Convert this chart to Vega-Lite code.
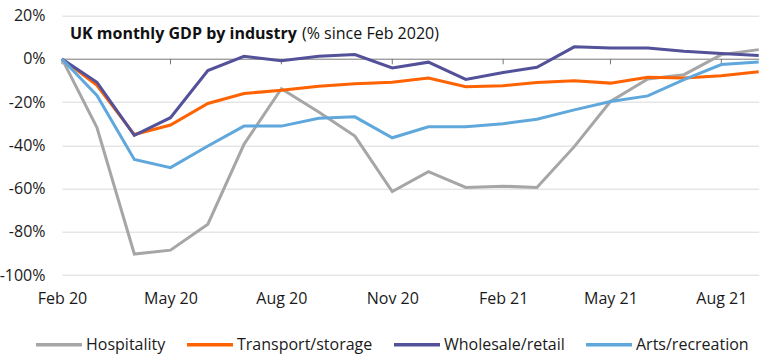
{
  "$schema": "https://vega.github.io/schema/vega-lite/v6.json",
  "width": 696.7,
  "height": 259.3,
  "autosize": "none",
  "padding": {"left": 62, "top": 15.7, "right": 6.3, "bottom": 84},
  "datasets": {
    "gdp": [
      {"date": "2020-02-01", "Hospitality": 0, "Transport/storage": 0, "Wholesale/retail": 0, "Arts/recreation": 0},
      {"date": "2020-03-01", "Hospitality": -0.318, "Transport/storage": -0.122, "Wholesale/retail": -0.108, "Arts/recreation": -0.169},
      {"date": "2020-04-01", "Hospitality": -0.903, "Transport/storage": -0.35, "Wholesale/retail": -0.354, "Arts/recreation": -0.465},
      {"date": "2020-05-01", "Hospitality": -0.885, "Transport/storage": -0.306, "Wholesale/retail": -0.272, "Arts/recreation": -0.503},
      {"date": "2020-06-01", "Hospitality": -0.765, "Transport/storage": -0.206, "Wholesale/retail": -0.054, "Arts/recreation": -0.403},
      {"date": "2020-07-01", "Hospitality": -0.395, "Transport/storage": -0.16, "Wholesale/retail": 0.012, "Arts/recreation": -0.311},
      {"date": "2020-08-01", "Hospitality": -0.138, "Transport/storage": -0.145, "Wholesale/retail": -0.008, "Arts/recreation": -0.311},
      {"date": "2020-09-01", "Hospitality": -0.246, "Transport/storage": -0.126, "Wholesale/retail": 0.012, "Arts/recreation": -0.275},
      {"date": "2020-10-01", "Hospitality": -0.357, "Transport/storage": -0.115, "Wholesale/retail": 0.02, "Arts/recreation": -0.268},
      {"date": "2020-11-01", "Hospitality": -0.614, "Transport/storage": -0.108, "Wholesale/retail": -0.042, "Arts/recreation": -0.365},
      {"date": "2020-12-01", "Hospitality": -0.522, "Transport/storage": -0.088, "Wholesale/retail": -0.015, "Arts/recreation": -0.314},
      {"date": "2021-01-01", "Hospitality": -0.595, "Transport/storage": -0.129, "Wholesale/retail": -0.095, "Arts/recreation": -0.314},
      {"date": "2021-02-01", "Hospitality": -0.589, "Transport/storage": -0.124, "Wholesale/retail": -0.063, "Arts/recreation": -0.3},
      {"date": "2021-03-01", "Hospitality": -0.595, "Transport/storage": -0.109, "Wholesale/retail": -0.039, "Arts/recreation": -0.279},
      {"date": "2021-04-01", "Hospitality": -0.406, "Transport/storage": -0.101, "Wholesale/retail": 0.056, "Arts/recreation": -0.236},
      {"date": "2021-05-01", "Hospitality": -0.197, "Transport/storage": -0.112, "Wholesale/retail": 0.051, "Arts/recreation": -0.197},
      {"date": "2021-06-01", "Hospitality": -0.093, "Transport/storage": -0.085, "Wholesale/retail": 0.051, "Arts/recreation": -0.171},
      {"date": "2021-07-01", "Hospitality": -0.073, "Transport/storage": -0.088, "Wholesale/retail": 0.036, "Arts/recreation": -0.096},
      {"date": "2021-08-01", "Hospitality": 0.02, "Transport/storage": -0.078, "Wholesale/retail": 0.025, "Arts/recreation": -0.026},
      {"date": "2021-09-01", "Hospitality": 0.043, "Transport/storage": -0.059, "Wholesale/retail": 0.016, "Arts/recreation": -0.014}
    ],
    "ticks": [
      {"date": "2020-02-01"}, {"date": "2020-05-01"}, {"date": "2020-08-01"}, {"date": "2020-11-01"},
      {"date": "2021-02-01"}, {"date": "2021-05-01"}, {"date": "2021-08-01"}
    ],
    "titles": [
      {"date": "2020-02-07T13:00:00Z", "v": 0.094, "bold": "UK monthly GDP by industry", "normal": ""},
      {"date": "2020-08-18T03:00:00Z", "v": 0.094, "bold": "", "normal": "(% since Feb 2020)"}
    ]
  },
  "layer": [
    {
      "data": {"name": "ticks"},
      "mark": {"type": "rule", "color": "#777777", "strokeWidth": 1},
      "encoding": {
        "x": {"field": "date", "type": "temporal", "title": null},
        "y": {"datum": 0, "type": "quantitative"},
        "y2": {"datum": -0.025}
      }
    },
    {
      "data": {"name": "gdp"},
      "transform": [{"fold": ["Hospitality", "Transport/storage", "Wholesale/retail", "Arts/recreation"], "as": ["industry", "v"]}],
      "mark": {"type": "line", "strokeWidth": 3},
      "encoding": {
        "x": {
          "field": "date", "type": "temporal", "title": null,
          "scale": {"type": "utc", "domain": [{"year": 2020, "month": 2, "date": 1, "utc": true}, {"year": 2021, "month": 9, "date": 1, "utc": true}]},
          "axis": {
            "values": [
              {"year": 2020, "month": 2, "date": 1, "utc": true},
              {"year": 2020, "month": 5, "date": 1, "utc": true},
              {"year": 2020, "month": 8, "date": 1, "utc": true},
              {"year": 2020, "month": 11, "date": 1, "utc": true},
              {"year": 2021, "month": 2, "date": 1, "utc": true},
              {"year": 2021, "month": 5, "date": 1, "utc": true},
              {"year": 2021, "month": 8, "date": 1, "utc": true}
            ],
            "format": "%b %y",
            "grid": false, "domain": false, "ticks": false,
            "labelPadding": 15, "labelFlush": false, "labelOverlap": false, "labelBound": false
          }
        },
        "y": {
          "field": "v", "type": "quantitative", "title": null,
          "scale": {"domain": [-1, 0.2], "nice": false, "zero": false},
          "axis": {
            "values": [-1, -0.8, -0.6, -0.4, -0.2, 0, 0.2],
            "format": ".0%",
            "grid": true,
            "gridColor": {"condition": {"test": "datum.value === 0", "value": "#777777"}, "value": "#d9d9d9"},
            "domain": false, "ticks": false, "labelPadding": 17
          }
        },
        "color": {
          "field": "industry", "type": "nominal", "title": null,
          "scale": {"domain": ["Hospitality", "Transport/storage", "Wholesale/retail", "Arts/recreation"], "range": ["#a6a6a6", "#ff6200", "#525199", "#60a8dc"]},
          "legend": {
            "orient": "none", "legendX": -28, "legendY": 304, "direction": "horizontal",
            "symbolType": "stroke", "symbolSize": 2116, "symbolStrokeWidth": 3.5,
            "labelFontSize": 16, "labelOffset": 2, "columnPadding": 14, "labelColor": "#1a1a1a"
          }
        }
      }
    },
    {
      "data": {"name": "titles"},
      "mark": {"type": "text", "align": "left", "baseline": "alphabetic", "fontSize": 16, "fontWeight": "bold", "color": "#111111"},
      "encoding": {
        "x": {"field": "date", "type": "temporal", "title": null},
        "y": {"field": "v", "type": "quantitative", "title": null},
        "text": {"field": "bold"}
      }
    },
    {
      "data": {"name": "titles"},
      "mark": {"type": "text", "align": "left", "baseline": "alphabetic", "fontSize": 16, "fontWeight": "normal", "color": "#111111"},
      "encoding": {
        "x": {"field": "date", "type": "temporal", "title": null},
        "y": {"field": "v", "type": "quantitative", "title": null},
        "text": {"field": "normal"}
      }
    }
  ],
  "config": {
    "font": "Open Sans",
    "view": {"stroke": null},
    "locale": {"number": {"decimal": ".", "thousands": ",", "grouping": [3], "currency": ["$", ""], "minus": "-"}},
    "axis": {"labelFontSize": 16, "labelColor": "#1a1a1a", "labelFont": "Open Sans"},
    "legend": {"labelFont": "Open Sans"}
  }
}
